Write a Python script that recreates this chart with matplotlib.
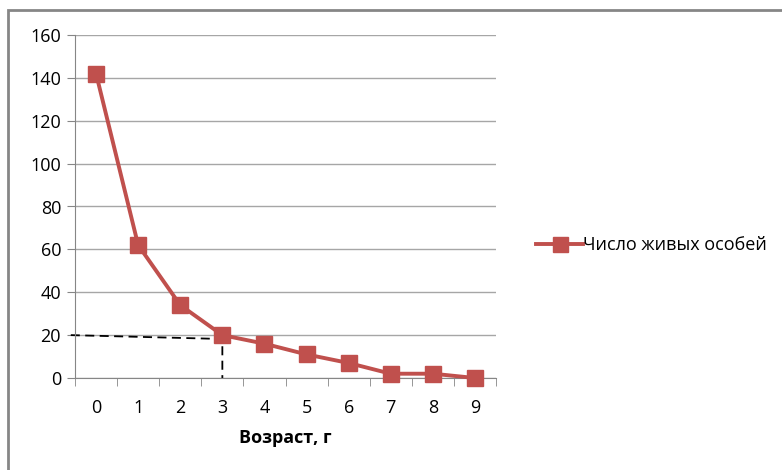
import matplotlib.pyplot as plt
from matplotlib.patches import Rectangle

plt.rcParams['font.family'] = ['Open Sans', 'DejaVu Sans']

# data
ages = [0, 1, 2, 3, 4, 5, 6, 7, 8, 9]
alive = [142, 62, 34, 20, 16, 11, 7, 2, 2, 0]
yticks = [0, 20, 40, 60, 80, 100, 120, 140, 160]
series_name = 'Число живых особей'
xlabel = 'Возраст, г'

# dashed guide lines (horizontal from axis to age 3, then down)
guide_x = [-0.6, 3.0, 3.0]
guide_y = [20, 18.2, 0]

red = '#C0504D'
grey = '#868686'

fig = plt.figure(figsize=(7.82, 4.70), dpi=100)
ax = fig.add_axes([75 / 782, 1 - 378 / 470, (496 - 75) / 782, (378 - 35) / 470])

# outer chart frame
fig.patches.append(Rectangle((8 / 782, -0.1), 1.2, 1 - 10 / 470 + 0.1,
                             transform=fig.transFigure, fill=False,
                             edgecolor=grey, linewidth=2))

ax.plot(guide_x, guide_y, color='black', linestyle=(0, (5, 3)), linewidth=1.3,
        zorder=2, clip_on=False)
ax.plot(ages, alive, color=red, linewidth=2.8, marker='s', markersize=12,
        label=series_name, zorder=3, clip_on=False)

ax.set_xlim(-0.5, 9.5)
ax.set_ylim(0, 160)
ax.set_yticks(yticks)
ax.set_xticks(ages)
ax.set_xticks([a + 0.5 for a in [-1] + ages], minor=True)
ax.grid(axis='y', color='#A6A6A6', linewidth=1)
ax.set_axisbelow(True)

for s in ['top', 'right']:
    ax.spines[s].set_visible(False)
for s in ['left', 'bottom']:
    ax.spines[s].set_color(grey)

ax.tick_params(axis='y', direction='out', length=6, color=grey, labelsize=13, pad=4)
ax.tick_params(axis='x', which='major', length=0, labelsize=13, pad=15)
ax.tick_params(axis='x', which='minor', direction='out', length=6, color=grey)

ax.set_xlabel(xlabel, fontsize=13, fontweight='bold', labelpad=9)

ax.legend(loc='center left', bbox_to_anchor=(520 / 782, 1 - 245 / 470),
          bbox_transform=fig.transFigure, frameon=False, fontsize=13,
          handlelength=2.6, handletextpad=0.0, markerscale=0.9)

fig.savefig('out.png', dpi=100)
